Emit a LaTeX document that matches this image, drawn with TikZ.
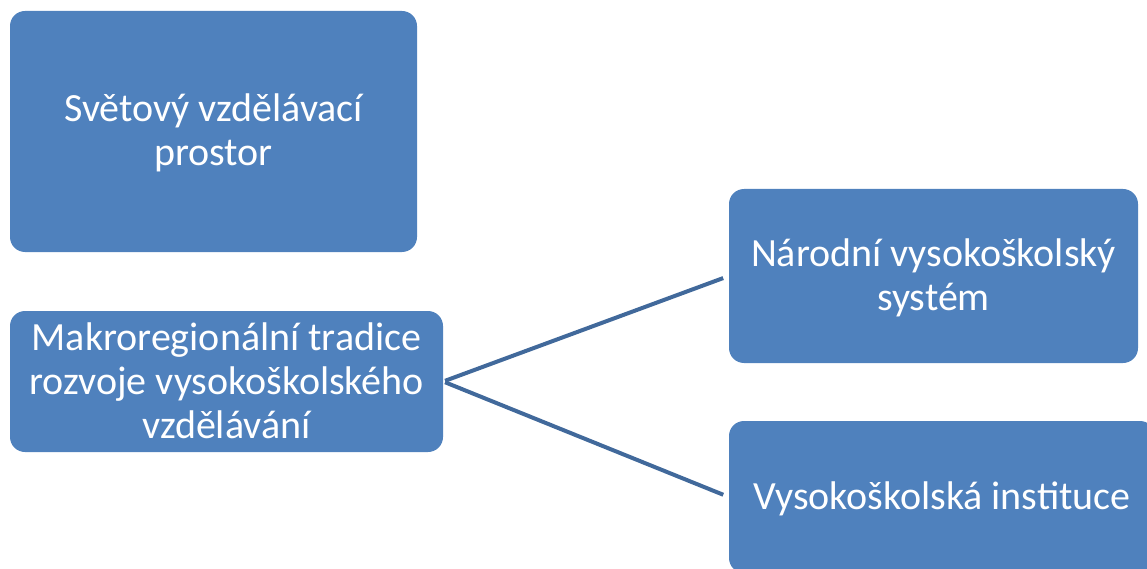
\documentclass[tikz,border=0pt]{standalone}
\usepackage{fontspec}
\setmainfont{Carlito}
\definecolor{boxblue}{HTML}{4F81BD}
\definecolor{lineblue}{HTML}{41699B}
\begin{document}
\begin{tikzpicture}[x=1pt,y=-1pt,
  box/.style={draw=none,fill=boxblue,rounded corners=15pt,inner sep=0pt},
  lbl/.style={text=white,align=center,inner sep=0pt,font=\fontsize{40}{44}\selectfont},
  conn/.style={draw=lineblue,line width=4pt}]
\useasboundingbox (0,0) rectangle (1147,569);
\node[box,minimum width=407pt,minimum height=241pt] (b1) at (213.5,131.5) {};
\node[lbl] (t1) at (213.5,133) {Světový vzdělávací\\prostor};
\node[box,minimum width=433pt,minimum height=141pt] (b2) at (226.5,381.5) {};
\node[lbl] (t2) at (226.5,381) {Makroregionální tradice\\rozvoje vysokoškolského\\vzdělávání};
\node[box,minimum width=409pt,minimum height=174pt] (b3) at (933.5,276) {};
\node[lbl] (t3) at (933.5,278) {Národní vysokoškolský\\systém};
\node[box,minimum width=426pt,minimum height=152pt] (b4) at (942,497) {};
\node[lbl] (t4) at (942,499) {Vysokoškolská instituce};
\draw[conn,shorten <=2pt,shorten >=6pt] (b2.east) -- (b3.west);
\draw[conn,shorten <=2pt,shorten >=6pt] (b2.east) -- (b4.west);
\end{tikzpicture}
\end{document}
